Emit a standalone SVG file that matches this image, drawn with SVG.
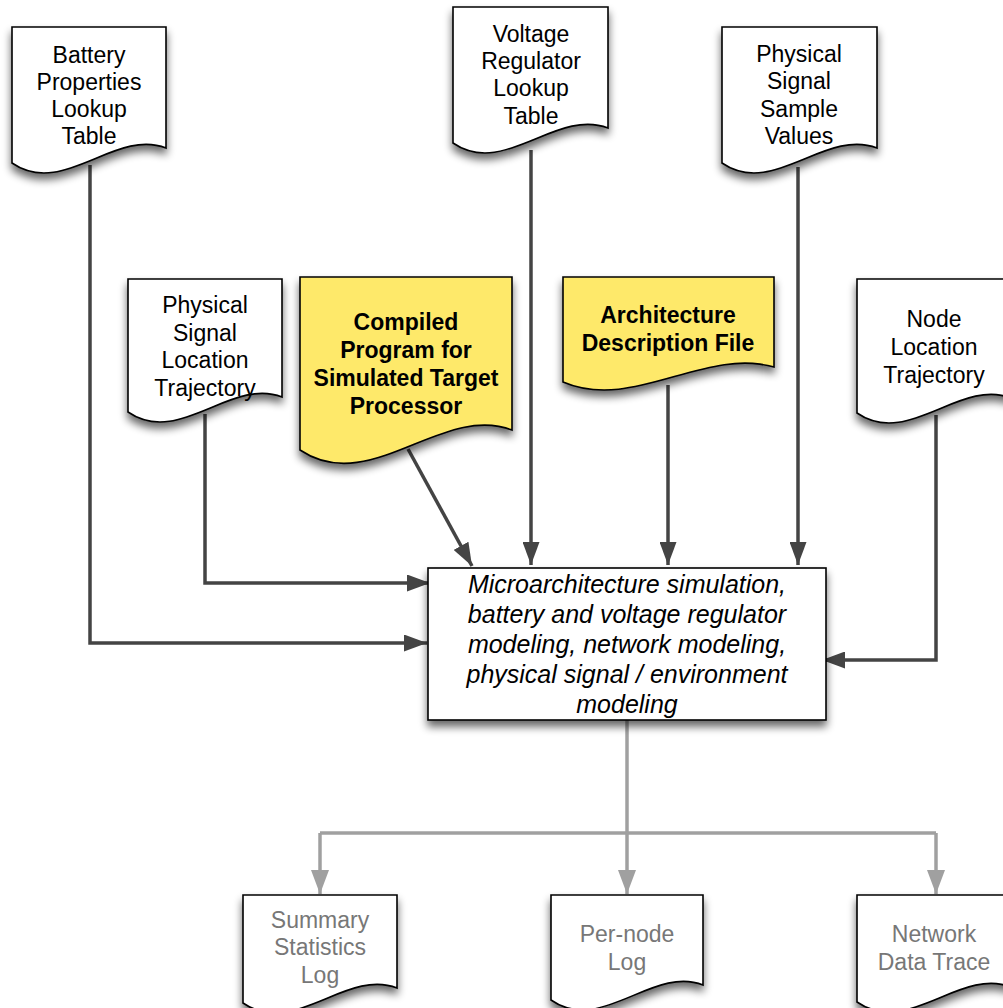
<svg xmlns="http://www.w3.org/2000/svg" width="1003" height="1008" viewBox="0 0 1003 1008">
  <defs>
    <filter id="shadow" x="-20%" y="-20%" width="140%" height="150%">
      <feGaussianBlur in="SourceAlpha" stdDeviation="4.5"/>
      <feOffset dx="0" dy="6" result="b"/>
      <feComponentTransfer><feFuncA type="linear" slope="0.6"/></feComponentTransfer>
      <feMerge><feMergeNode/><feMergeNode in="SourceGraphic"/></feMerge>
    </filter>
    <marker id="arrowDark" markerUnits="userSpaceOnUse" viewBox="0 0 23 17" refX="23" refY="8.5" markerWidth="23" markerHeight="17" orient="auto">
      <path d="M0,0 L23,8.5 L0,17 Z" fill="#444"/>
    </marker>
    <marker id="arrowGray" markerUnits="userSpaceOnUse" viewBox="0 0 24 18" refX="24" refY="9" markerWidth="24" markerHeight="18" orient="auto">
      <path d="M0,0 L24,9 L0,18 Z" fill="#a0a0a0"/>
    </marker>
  </defs>
  <style>
    .doc { fill: #ffffff; stroke: #000; stroke-width: 1.6; filter: url(#shadow); }
    .doc.yellow { fill: #fee96a; }
    .box { fill: #ffffff; stroke: #000; stroke-width: 1.6; filter: url(#shadow); }
    text { font-family: "Liberation Sans", Arial, sans-serif; font-size: 23px; text-anchor: middle; fill: #000; }
    .bold { font-weight: bold; }
    .ital { font-style: italic; font-size: 25px; }
    .out { fill: #777; }
    .dark { fill: none; stroke: #444; stroke-width: 3.5; marker-end: url(#arrowDark); }
    .gray { fill: none; stroke: #a0a0a0; stroke-width: 3.5; }
    .grayArrow { marker-end: url(#arrowGray); }
  </style>

  <!-- connectors -->
  <g id="connectors">
    <path class="dark" d="M90,165 V643 H427"/>
    <path class="dark" d="M205,414 V583 H430"/>
    <path class="dark" d="M408,449 L472,566"/>
    <path class="dark" d="M531,150 V565"/>
    <path class="dark" d="M668,385 V565"/>
    <path class="dark" d="M798,167 V565"/>
    <path class="dark" d="M936,415 V660 H822"/>
    <path class="gray" d="M627,720 V833"/>
    <path class="gray" d="M320,833 H936"/>
    <path class="gray grayArrow" d="M320,833 V894"/>
    <path class="gray grayArrow" d="M627,833 V894"/>
    <path class="gray grayArrow" d="M936,833 V894"/>
  </g>

  <!-- input documents -->
  <g id="battery-table">
    <path class="doc" d="M12,27 H166 V148 C115,128 63,198 12,163 Z"/>
    <text x="89" y="63">Battery</text>
    <text x="89" y="90">Properties</text>
    <text x="89" y="117">Lookup</text>
    <text x="89" y="144">Table</text>
  </g>

  <g id="regulator-table">
    <path class="doc" d="M453,7 H608 V128 C556,108 504,178 453,143 Z"/>
    <text x="531" y="42">Voltage</text>
    <text x="531" y="69">Regulator</text>
    <text x="531" y="96">Lookup</text>
    <text x="531" y="124">Table</text>
  </g>

  <g id="signal-samples">
    <path class="doc" d="M722,27 H877 V148 C825,128 773,198 722,163 Z"/>
    <text x="799" y="62">Physical</text>
    <text x="799" y="89">Signal</text>
    <text x="799" y="117">Sample</text>
    <text x="799" y="144">Values</text>
  </g>

  <g id="signal-trajectory">
    <path class="doc" d="M128,279 H282 V397 C231,377 179,447 128,412 Z"/>
    <text x="205" y="313">Physical</text>
    <text x="205" y="341">Signal</text>
    <text x="205" y="368">Location</text>
    <text x="205" y="396">Trajectory</text>
  </g>

  <g id="compiled-program">
    <path class="doc yellow" d="M300,277 H512 V430 C442,403 370,497 300,450 Z"/>
    <text class="bold" x="406" y="330">Compiled</text>
    <text class="bold" x="406" y="358">Program for</text>
    <text class="bold" x="406" y="386">Simulated Target</text>
    <text class="bold" x="406" y="414">Processor</text>
  </g>

  <g id="architecture-file">
    <path class="doc yellow" d="M563,277 H774 V367 C704,347 633,412 563,382 Z"/>
    <text class="bold" x="668" y="323">Architecture</text>
    <text class="bold" x="668" y="351">Description File</text>
  </g>

  <g id="node-trajectory">
    <path class="doc" d="M857,279 H1011 V398 C960,378 908,448 857,413 Z"/>
    <text x="934" y="327">Node</text>
    <text x="934" y="355">Location</text>
    <text x="934" y="383">Trajectory</text>
  </g>

  <!-- simulator -->
  <g id="simulator">
    <rect class="box" x="428" y="568" width="398" height="152"/>
    <text class="ital" x="627" y="593">Microarchitecture simulation,</text>
    <text class="ital" x="627" y="623">battery and voltage regulator</text>
    <text class="ital" x="627" y="653">modeling, network modeling,</text>
    <text class="ital" x="627" y="683">physical signal / environment</text>
    <text class="ital" x="627" y="713">modeling</text>
  </g>

  <!-- output documents -->
  <g id="summary-log">
    <path class="doc" d="M243,895 H397 V988 C346,968 294,1038 243,1003 Z"/>
    <text class="out" x="320" y="928">Summary</text>
    <text class="out" x="320" y="955">Statistics</text>
    <text class="out" x="320" y="983">Log</text>
  </g>

  <g id="per-node-log">
    <path class="doc" d="M551,895 H703 V985 C653,965 601,1035 551,1000 Z"/>
    <text class="out" x="627" y="942">Per-node</text>
    <text class="out" x="627" y="970">Log</text>
  </g>

  <g id="network-trace">
    <path class="doc" d="M857,895 H1011 V987 C960,967 908,1037 857,1002 Z"/>
    <text class="out" x="934" y="942">Network</text>
    <text class="out" x="934" y="970">Data Trace</text>
  </g>
</svg>
